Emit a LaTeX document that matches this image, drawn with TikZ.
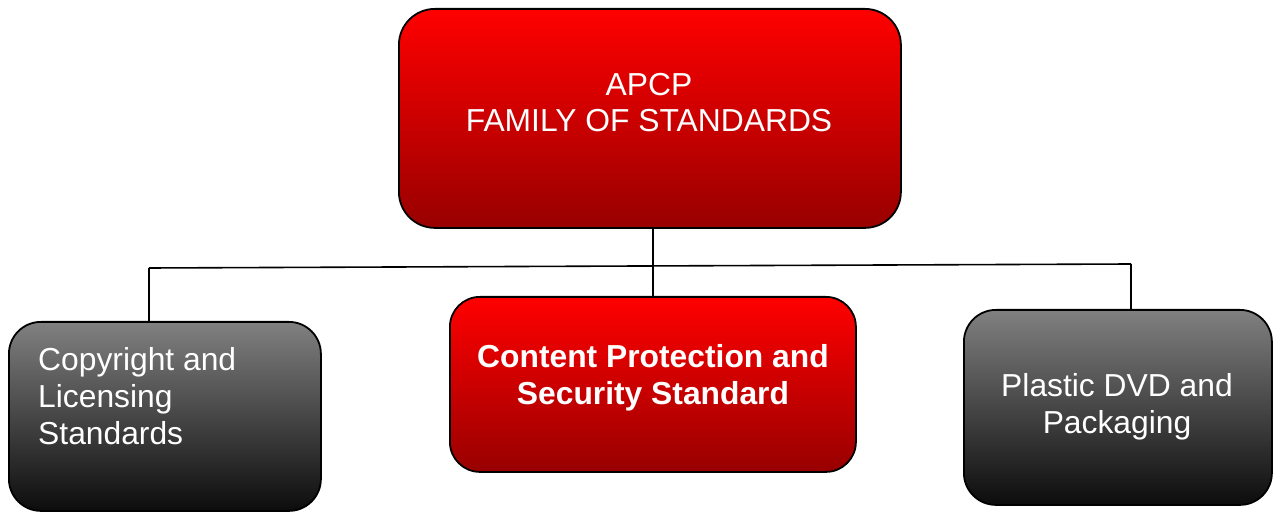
\documentclass[tikz,border=0pt]{standalone}
\usepackage{fontspec}
\setmainfont{Liberation Sans}
\definecolor{redtop}{RGB}{255,0,0}
\definecolor{redmid}{RGB}{228,0,0}
\definecolor{redbot}{RGB}{152,0,0}
\definecolor{greytop}{RGB}{128,128,128}
\definecolor{greybot}{RGB}{12,12,12}
\begin{document}
\begin{tikzpicture}[x=1bp,y=-1bp,
  box/.style={draw=black, line width=1.8bp, rounded corners=36bp, inner sep=0pt, anchor=north west},
  redbox/.style={box, top color=redtop, middle color=redmid, bottom color=redbot},
  greybox/.style={box, top color=greytop, bottom color=greybot},
  lbl/.style={text=white, font=\fontsize{31.8bp}{36.6bp}\selectfont, inner sep=0pt, anchor=base},
  wire/.style={line width=1.6bp, draw=black}]
\useasboundingbox (0,0) rectangle (1273,512);

% boxes
\node[redbox, minimum width=502bp, minimum height=219bp] (top) at (398,8) {};
\node[redbox, minimum width=406bp, minimum height=175bp, rounded corners=30bp] (mid) at (449,296) {};
\node[greybox, minimum width=312bp, minimum height=189bp, rounded corners=32bp] (left) at (8,321) {};
\node[greybox, minimum width=308bp, minimum height=195bp, rounded corners=32bp] (right) at (963,309) {};

% labels (anchored at the baseline of the last line)
\node[lbl, align=center] (toptext) at (649,132) {APCP\\FAMILY OF STANDARDS};
\node[lbl, align=center, font=\fontsize{31.8bp}{36.6bp}\selectfont\bfseries] (midtext) at (653,404) {Content Protection and\\Security Standard};
\node[lbl, align=left, anchor=base west] (lefttext) at (38,444) {Copyright and\\Licensing\\Standards};
\node[lbl, align=center] (righttext) at (1117,433) {Plastic DVD and\\Packaging};

% connectors
\coordinate (jl) at (149,268);
\coordinate (jc) at (653,266);
\coordinate (jr) at (1131,264);
\draw[wire] (jc |- top.south) -- (jc |- mid.north);
\draw[wire] (jl) -- (jr);
\draw[wire] (jl) -- (jl |- left.north);
\draw[wire] (jr) -- (jr |- right.north);
\end{tikzpicture}
\end{document}
